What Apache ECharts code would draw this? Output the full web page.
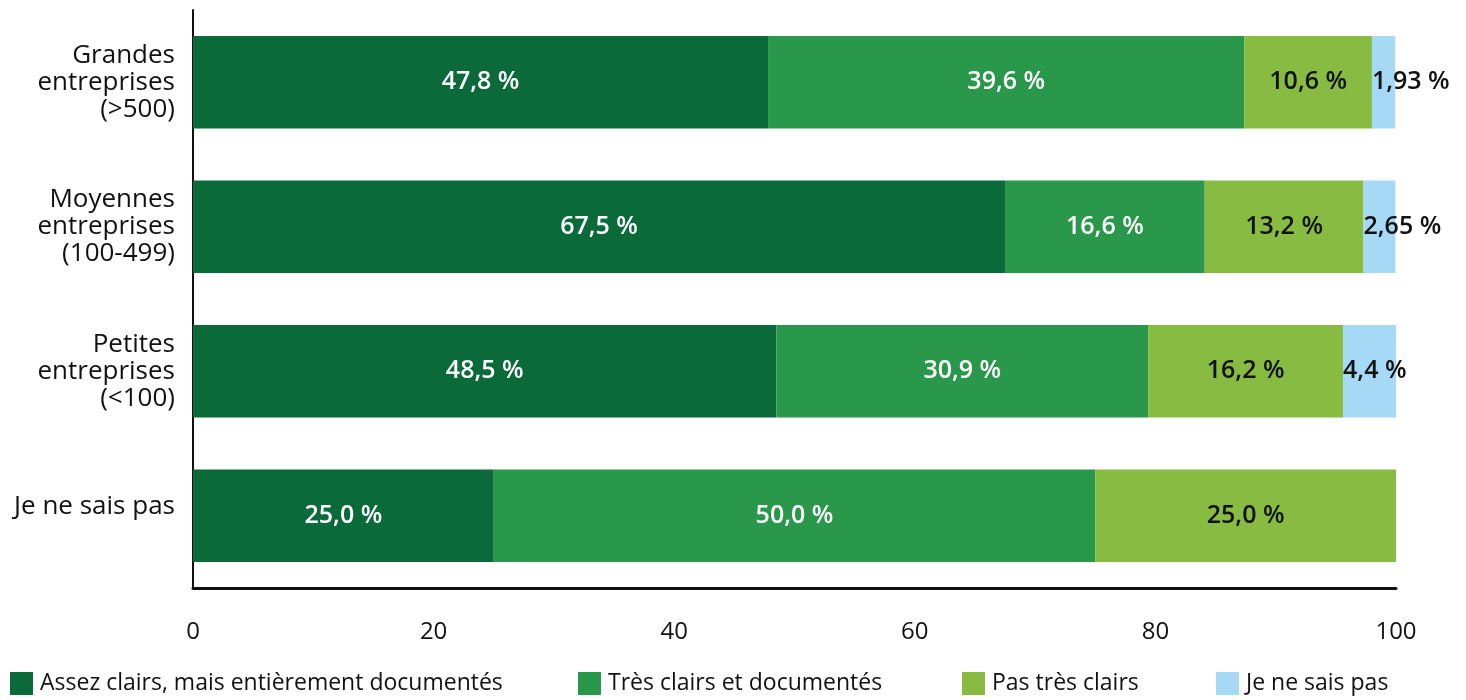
<!DOCTYPE html>
<html>
<head>
<meta charset="utf-8">
<script src="https://cdn.jsdelivr.net/npm/echarts@6/dist/echarts.min.js"></script>
<style>
  html, body { margin: 0; padding: 0; background: #ffffff; }
  #chart { width: 1466px; height: 700px; }
</style>
</head>
<body>
<div id="chart"></div>
<script>
// Company size categories (top to bottom)
const categories = [
  'Grandes\nentreprises\n(>500)',
  'Moyennes\nentreprises\n(100-499)',
  'Petites\nentreprises\n(<100)',
  'Je ne sais pas'
];

// Series names
const seriesNames = [
  'Assez clairs, mais entièrement documentés',
  'Très clairs et documentés',
  'Pas très clairs',
  'Je ne sais pas'
];

// Shares in percent, one array per answer
const assezClairs   = [47.8, 67.5, 48.5, 25.0];
const tresClairs    = [39.6, 16.6, 30.9, 50.0];
const pasTresClairs = [10.6, 13.2, 16.2, 25.0];
const neSaitPas     = [1.93, 2.65, 4.4, null];

const xTicks = [0, 20, 40, 60, 80, 100];

const colors = ['#0a6a3a', '#2a984a', '#88bb41', '#a6d9f5'];
const labelColors = ['#ffffff', '#ffffff', '#111111', '#111111'];
const FONT = '"Open Sans", "Noto Sans", sans-serif';

function fmt(v) {
  if (v === null || v === undefined) return '';
  const s = Number.isInteger(v) ? v.toFixed(1) : String(v);
  return s.replace('.', ',') + ' %';
}

const seriesData = [assezClairs, tresClairs, pasTresClairs, neSaitPas];

const series = seriesData.map((data, i) => ({
  name: seriesNames[i],
  type: 'bar',
  stack: 'total',
  barCategoryGap: '36%',
  data: data,
  itemStyle: { color: colors[i] },
  label: {
    show: true,
    position: i === 3 ? 'insideLeft' : 'inside',
    distance: 0,
    offset: i === 3 ? [-1, 0] : [0, 0],
    color: labelColors[i],
    fontFamily: FONT,
    fontWeight: 600,
    fontSize: 25,
    formatter: p => fmt(p.value)
  },
  labelLayout: { hideOverlap: false }
}));

// One legend per entry so each can sit at its own position
const legendLefts = [5, 573, 957, 1211];
const legends = seriesNames.map((n, i) => ({
  data: [n],
  left: legendLefts[i],
  top: 667,
  orient: 'horizontal',
  icon: 'rect',
  itemWidth: 23,
  itemHeight: 23,
  itemGap: 0,
  selectedMode: false,
  textStyle: { fontFamily: FONT, fontSize: 23, color: '#111111', padding: [0, 0, 0, 2] }
}));

const chart = echarts.init(document.getElementById('chart'), null, { renderer: 'canvas' });
chart.setOption({
  animation: false,
  backgroundColor: '#ffffff',
  grid: { left: 193, right: 70, top: 10, bottom: 112, containLabel: false },
  legend: legends,
  xAxis: {
    type: 'value',
    min: xTicks[0],
    max: xTicks[xTicks.length - 1],
    interval: xTicks[1] - xTicks[0],
    axisLine: { show: true, lineStyle: { color: '#111111', width: 3 } },
    axisTick: { show: false },
    splitLine: { show: false },
    axisLabel: {
      margin: 32,
      fontFamily: FONT,
      fontSize: 24,
      color: '#111111'
    }
  },
  yAxis: {
    type: 'category',
    inverse: true,
    data: categories,
    axisLine: { show: true, lineStyle: { color: '#111111', width: 2 } },
    axisTick: { show: false },
    axisLabel: {
      margin: 18,
      fontFamily: FONT,
      fontSize: 26,
      lineHeight: 27,
      color: '#111111',
      align: 'right',
      formatter: (v, idx) => idx === 3 ? '{s|' + v + '}' : v,
      rich: {
        s: { fontFamily: FONT, fontSize: 26, color: '#111111', padding: [0, 0, 18, 0] }
      }
    }
  },
  series: series
});
</script>
</body>
</html>
